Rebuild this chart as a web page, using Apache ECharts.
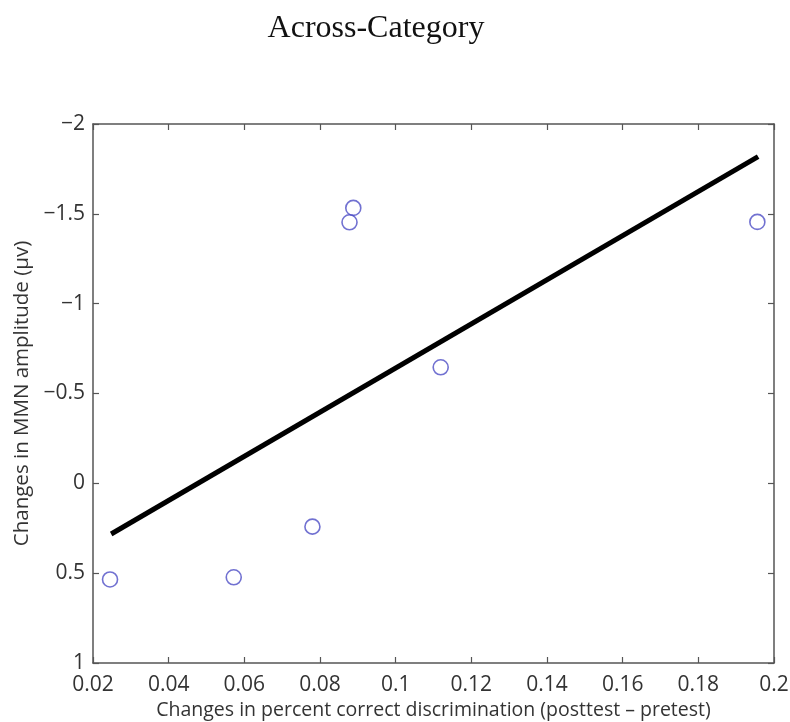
<!DOCTYPE html>
<html>
<head>
<meta charset="utf-8">
<style>
  html, body { margin: 0; padding: 0; background: #ffffff; }
  #chart { width: 790px; height: 722px; }
</style>
<script src="https://cdn.jsdelivr.net/npm/echarts@6/dist/echarts.min.js"></script>
</head>
<body>
<div id="chart"></div>
<script>
// Per-subject change in discrimination score vs. change in MMN amplitude
const discriminationChange = [0.0245, 0.0572, 0.078, 0.0878, 0.0888, 0.1119, 0.1956];
const mmnChange = [0.535, 0.523, 0.241, -1.453, -1.533, -0.646, -1.455];

// Regression line endpoints
const fitX = [0.0248, 0.1958];
const fitY = [0.282, -1.818];

// Axis ranges and tick steps
const xRange = [0.02, 0.2];
const xStep = 0.02;
const yRange = [-2, 1];
const yStep = 0.5;

const titleText = 'Across-Category';
const xName = 'Changes in percent correct discrimination (posttest \u2013 pretest)';
const yName = 'Changes in MMN amplitude (\u03bcv)';

const axisColor = '#555555';
const labelColor = '#333333';
const labelFont = '"Open Sans", "Noto Sans", sans-serif';

function fmt(v) {
  const n = parseFloat(v.toFixed(3));
  const s = String(Math.abs(n));
  return n < 0 ? '\u2212' + s : s;
}

const chart = echarts.init(document.getElementById('chart'), null, { renderer: 'canvas' });

const frameAxis = {
  show: true,
  axisLine: { show: true, onZero: false, lineStyle: { color: axisColor, width: 1.5 } },
  axisTick: { show: true, inside: true, length: 6, lineStyle: { color: axisColor, width: 1.2 } },
  axisLabel: { show: false },
  splitLine: { show: false }
};

chart.setOption({
  animation: false,
  backgroundColor: '#ffffff',
  title: {
    text: titleText,
    left: 371,
    top: 8,
    textAlign: 'center',
    textStyle: {
      fontFamily: '"Liberation Serif", "DejaVu Serif", serif',
      fontWeight: 'normal',
      fontSize: 32,
      color: '#111111'
    }
  },
  grid: { left: 93, top: 124, width: 681, height: 539, containLabel: false, outerBoundsMode: 'none' },
  xAxis: [
    Object.assign({}, frameAxis, {
      type: 'value',
      position: 'bottom',
      min: xRange[0],
      max: xRange[1],
      interval: xStep,
      name: xName,
      nameLocation: 'middle',
      nameGap: 33,
      nameTextStyle: { fontFamily: labelFont, fontSize: 19.5, color: labelColor },
      axisLabel: {
        show: true,
        margin: 12,
        fontFamily: labelFont,
        fontSize: 21,
        color: labelColor,
        formatter: fmt
      }
    }),
    Object.assign({}, frameAxis, {
      type: 'value',
      position: 'top',
      min: xRange[0],
      max: xRange[1],
      interval: xStep
    })
  ],
  yAxis: [
    Object.assign({}, frameAxis, {
      type: 'value',
      position: 'left',
      inverse: true,
      min: yRange[0],
      max: yRange[1],
      interval: yStep,
      name: yName,
      nameLocation: 'middle',
      nameGap: 60,
      nameRotate: 90,
      nameTextStyle: { fontFamily: labelFont, fontSize: 20.5, color: labelColor },
      axisLabel: {
        show: true,
        margin: 8,
        fontFamily: labelFont,
        fontSize: 21,
        color: labelColor,
        formatter: fmt
      }
    }),
    Object.assign({}, frameAxis, {
      type: 'value',
      position: 'right',
      inverse: true,
      min: yRange[0],
      max: yRange[1],
      interval: yStep
    })
  ],
  series: [
    {
      type: 'line',
      xAxisIndex: 0,
      yAxisIndex: 0,
      data: fitX.map((x, i) => [x, fitY[i]]),
      showSymbol: false,
      lineStyle: { color: '#000000', width: 5 },
      z: 2
    },
    {
      type: 'scatter',
      xAxisIndex: 0,
      yAxisIndex: 0,
      data: discriminationChange.map((x, i) => [x, mmnChange[i]]),
      symbol: 'circle',
      symbolSize: 15,
      itemStyle: { color: 'rgba(0,0,0,0)', borderColor: '#4e4ec6', borderWidth: 1.6 },
      z: 3
    }
  ]
});
</script>
</body>
</html>
